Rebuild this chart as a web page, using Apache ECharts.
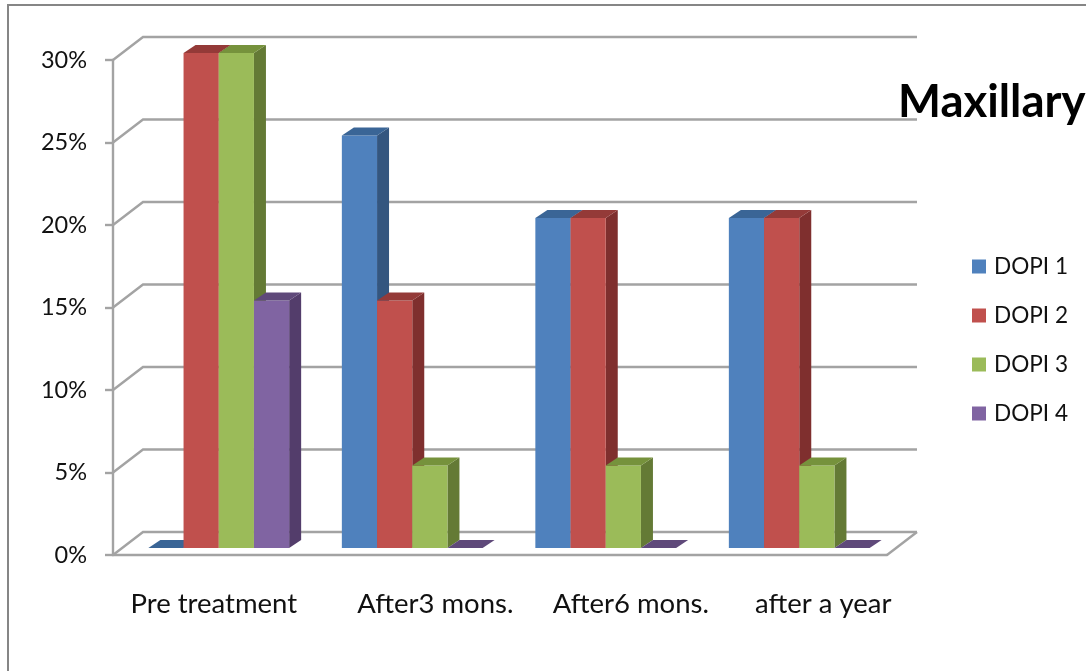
<!DOCTYPE html>
<html><head><meta charset="utf-8">
<style>html,body{margin:0;padding:0;background:#fff}#c{width:1086px;height:671px}</style>
<script src="https://cdn.jsdelivr.net/npm/echarts@6/dist/echarts.min.js"></script>
</head><body><div id="c"></div>
<script>
const categories = ['Pre treatment','After3 mons.','After6 mons.','after a year'];
const yTicks = [0,5,10,15,20,25,30];
const dopi1 = [0,25,20,20];
const dopi2 = [30,15,20,20];
const dopi3 = [30,5,5,5];
const dopi4 = [15,0,0,0];
const names = ['DOPI 1','DOPI 2','DOPI 3','DOPI 4'];
const fronts = ['#4f81bd','#c0504d','#9bbb59','#8064a2'];
const tops = ['#3a6596','#943a38','#76923c','#5f497a'];
const sides = ['#34567f','#7f2f2e','#647a35','#533d6b'];
const seriesValues = [dopi1,dopi2,dopi3,dopi4];
const labelShift = [8,64,68,66];
const gridColor = '#a3a3a3';
const FX=9, FY=-7, DX=12, DY=-8, BX=30, BY=-23, BARW=35.2;

function barRender(idx){
  return function(params, api){
    const p = api.coord([api.value(0), api.value(1)]);
    const b = api.coord([api.value(0), 0]);
    const x0 = p[0] + FX + (idx-2)*BARW, x1 = x0 + BARW;
    const yt = p[1] + FY, yb = b[1] + FY;
    const kids = [];
    if (yb - yt > 0.5) {
      kids.push({type:'polygon',shape:{points:[[x1,yt],[x1+DX,yt+DY],[x1+DX,yb+DY],[x1,yb]]},style:{fill:sides[idx]}});
      kids.push({type:'rect',shape:{x:x0,y:yt,width:BARW,height:yb-yt},style:{fill:fronts[idx]}});
    }
    kids.push({type:'polygon',shape:{points:[[x0,yt],[x1,yt],[x1+DX,yt+DY],[x0+DX,yt+DY]]},style:{fill:tops[idx]}});
    return {type:'group',children:kids};
  };
}
function wallRender(params, api){
  const cs = params.coordSys;
  const p = api.coord([0, api.value(1)]);
  const x = cs.x, y = p[1], xr = cs.x+cs.width;
  const kids = [{type:'polyline',shape:{points:[[x,y],[x+BX,y+BY],[xr+BX,y+BY]]},style:{fill:null,stroke:gridColor,lineWidth:2.4}}];
  if (api.value(1)===0) kids.push({type:'line',shape:{x1:xr,y1:y,x2:xr+BX,y2:y+BY},style:{stroke:gridColor,lineWidth:2.4}});
  return {type:'group',children:kids};
}
const series = [{type:'custom',name:'walls',silent:true,z:1,clip:false,renderItem:wallRender,
  data:yTicks.map(v=>[0,v])}];
names.forEach((n,i)=>series.push({type:'custom',name:n,z:2,clip:false,renderItem:barRender(i),
  itemStyle:{color:fronts[i]},data:seriesValues[i].map((v,j)=>[j,v])}));

const rich = {};
labelShift.forEach((s,i)=>{rich['p'+i]={fontFamily:'Lato',fontSize:27.5,color:'#111',padding:[0,0,0,s]};});

const chart = echarts.init(document.getElementById('c'),null,{renderer:'canvas'});
chart.setOption({
  animation:false,backgroundColor:'#fff',
  title:{text:'Maxillary',left:893,top:74,textStyle:{fontFamily:'Lato',fontSize:45.5,fontWeight:'bold',color:'#000'}},
  legend:{orient:'vertical',left:972,top:255,padding:0,itemWidth:14,itemHeight:14,itemGap:26,icon:'rect',data:names,
    textStyle:{fontFamily:'Lato',fontSize:22.6,color:'#111',padding:[0,0,0,3]}},
  grid:{left:113,top:60,width:774,height:495},
  xAxis:{type:'category',data:categories,
    axisLine:{lineStyle:{color:gridColor,width:2.4}},axisTick:{show:false},
    axisLabel:{interval:0,margin:35,formatter:(v,i)=>`{p${i}|${v}}`,rich}},
  yAxis:{type:'value',min:0,max:30,interval:5,
    axisLine:{show:true,lineStyle:{color:gridColor,width:2.4}},
    axisTick:{show:true,length:8,lineStyle:{color:gridColor,width:2.4}},
    splitLine:{show:false},
    axisLabel:{margin:26,formatter:'{value}%',fontFamily:'Lato',fontSize:23.5,color:'#111'}},
  graphic:[{type:'polyline',z:0,shape:{points:[[8,672],[8,5],[1086,5]]},style:{fill:null,stroke:'#868686',lineWidth:2}}],
  series
});
</script></body></html>
